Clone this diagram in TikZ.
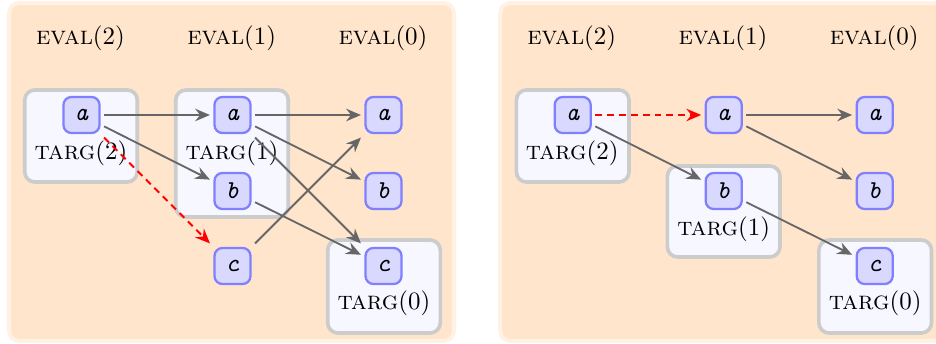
\documentclass[tikz,border=0pt]{standalone}
\usepackage{fontspec}
\usetikzlibrary{arrows.meta}
\begin{document}
\begin{tikzpicture}[x=0.4386pt,y=-0.4386pt,
  every node/.style={font=\fontsize{11.3pt}{13.5pt}\selectfont},
  panel/.style={draw=orange!10,fill=orange!20,line width=1.75pt,rounded corners=4.5pt},
  targbox/.style={draw=gray!40,fill=blue!3,line width=1.6pt,rounded corners=4.5pt,inner sep=0pt,minimum width=49.4pt},
  var/.style={draw=blue!50,fill=blue!15,line width=1pt,rounded corners=3.5pt,minimum size=15.8pt,inner sep=0pt,outer sep=2pt,font=\fontsize{11.3pt}{13.5pt}\selectfont\ttfamily\itshape},
  lbl/.style={inner sep=0pt},
  arr/.style={draw=black!60,line width=0.8pt,-{Stealth[length=6.5pt,width=5.5pt,inset=2.2pt]}},
  rarr/.style={draw=red,line width=0.8pt,dash pattern=on 3pt off 2.2pt,-{Stealth[length=6.5pt,width=5.5pt,inset=2.2pt]}}]
\useasboundingbox (0,0) rectangle (936,344);
% left panel
\node[panel,minimum width=195.2pt,minimum height=148.2pt] (PL) at (231.5,172) {};
\node[lbl] (eL2) at (80.5,38) {\textsc{eval}$(2)$};
\node[lbl] (eL1) at (231.7,38) {\textsc{eval}$(1)$};
\node[lbl] (eL0) at (383,38) {\textsc{eval}$(0)$};
\node[targbox,minimum height=40.4pt] (BL2) at (81,136) {};
\node[targbox,minimum height=55.7pt] (BL1) at (232,153.5) {};
\node[targbox,minimum height=40.8pt] (BL0) at (384,286.5) {};
\node[lbl] (tL2) at (81,153) {\textsc{targ}$(2)$};
\node[lbl] (tL1) at (232,153) {\textsc{targ}$(1)$};
\node[lbl] (tL0) at (384,303) {\textsc{targ}$(0)$};
\node[var] (La2) at (81.5,115) {a};
\node[var] (La1) at (232.5,115) {a};
\node[var] (La0) at (383.5,115) {a};
\node[var] (Lb1) at (232.5,191) {b};
\node[var] (Lb0) at (383.5,191) {b};
\node[var] (Lc1) at (232.5,266) {c};
\node[var] (Lc0) at (383.5,266) {c};
\draw[arr] (La2) -- (La1);
\draw[arr] (La2) -- (Lb1);
\draw[rarr] (La2) -- (Lc1);
\draw[arr] (La1) -- (La0);
\draw[arr] (La1) -- (Lb0);
\draw[arr] (La1) -- (Lc0);
\draw[arr] (Lb1) -- (Lc0);
\draw[arr] (Lc1) -- (La0);
% right panel
\begin{scope}[shift={(491.2,0)}]
\node[panel,minimum width=195.2pt,minimum height=148.2pt] (PR) at (231.5,172) {};
\node[lbl] (eR2) at (80.5,38) {\textsc{eval}$(2)$};
\node[lbl] (eR1) at (231.7,38) {\textsc{eval}$(1)$};
\node[lbl] (eR0) at (383,38) {\textsc{eval}$(0)$};
\node[targbox,minimum height=40.4pt] (BR2) at (81.5,136) {};
\node[targbox,minimum height=39.9pt] (BR1) at (232.5,211.5) {};
\node[targbox,minimum height=40.8pt] (BR0) at (384,286.5) {};
\node[lbl] (tR2) at (81,153) {\textsc{targ}$(2)$};
\node[lbl] (tR1) at (232.5,229) {\textsc{targ}$(1)$};
\node[lbl] (tR0) at (384,303) {\textsc{targ}$(0)$};
\node[var] (Ra2) at (81.5,115) {a};
\node[var] (Ra1) at (232.5,115) {a};
\node[var] (Ra0) at (383.5,115) {a};
\node[var] (Rb1) at (232.5,191) {b};
\node[var] (Rb0) at (383.5,191) {b};
\node[var] (Rc0) at (383.5,266) {c};
\draw[rarr] (Ra2) -- (Ra1);
\draw[arr] (Ra2) -- (Rb1);
\draw[arr] (Ra1) -- (Ra0);
\draw[arr] (Ra1) -- (Rb0);
\draw[arr] (Rb1) -- (Rc0);
\end{scope}
\end{tikzpicture}
\end{document}
